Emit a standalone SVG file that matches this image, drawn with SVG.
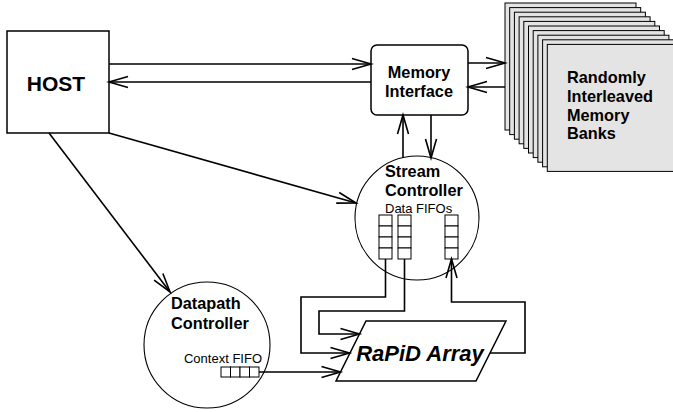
<svg xmlns="http://www.w3.org/2000/svg" width="673" height="412" viewBox="0 0 673 412">
  <style>
    .bold { font-family: "Liberation Sans", Arial, sans-serif; font-weight: bold; fill: #000; }
    .reg { font-family: "Liberation Sans", Arial, sans-serif; fill: #000; }
    .box { fill: #fff; stroke: #000; stroke-width: 1.5; }
    .ring { fill: #fff; stroke: #000; stroke-width: 1.1; }
    .card { fill: #e4e4e4; stroke: #000; stroke-width: 1; }
    .cell { fill: #fff; stroke: #000; stroke-width: 1; }
    .wire { fill: none; stroke: #000; stroke-width: 1.6; }
  </style>
  <defs>
    <marker id="open" viewBox="-20 -7 21 14" refX="0" refY="0" markerWidth="21" markerHeight="14" markerUnits="userSpaceOnUse" orient="auto" overflow="visible">
      <path d="M-19,-5.5 L0,0 L-19,5.5" fill="none" stroke="#000" stroke-width="1.6"/>
    </marker>
  </defs>

  <rect width="673" height="412" fill="#fff"/>

  <!-- Host -->
  <g id="host">
    <rect class="box" x="7" y="31" width="102" height="102"/>
    <text class="bold" x="56" y="91" font-size="21" text-anchor="middle">HOST</text>
  </g>

  <!-- Memory interface -->
  <g id="memory-interface">
    <rect class="box" x="371" y="45" width="97" height="70" rx="6"/>
    <text class="bold" x="419" y="78" font-size="16.3" text-anchor="middle">Memory</text>
    <text class="bold" x="419" y="97" font-size="16.3" text-anchor="middle">Interface</text>
  </g>

  <!-- Stack of memory banks -->
  <g id="memory-banks">
    <rect class="card" x="505" y="3" width="131" height="127"/>
    <rect class="card" x="509.7" y="7.6" width="131" height="127"/>
    <rect class="card" x="514.4" y="12.2" width="131" height="127"/>
    <rect class="card" x="519.1" y="16.8" width="131" height="127"/>
    <rect class="card" x="523.8" y="21.4" width="131" height="127"/>
    <rect class="card" x="528.5" y="26" width="131" height="127"/>
    <rect class="card" x="533.2" y="30.6" width="131" height="127"/>
    <rect class="card" x="537.9" y="35.2" width="131" height="127"/>
    <rect class="card" x="542.6" y="39.8" width="131" height="127"/>
    <rect class="card" x="547.3" y="44.4" width="131" height="127"/>
    <text class="bold" x="567" y="83" font-size="16.3">Randomly</text>
    <text class="bold" x="567" y="102" font-size="16.3">Interleaved</text>
    <text class="bold" x="567" y="120.5" font-size="16.3">Memory</text>
    <text class="bold" x="567" y="139" font-size="16.3">Banks</text>
  </g>

  <!-- Stream controller with its data FIFOs -->
  <g id="stream-controller">
    <circle class="ring" cx="417" cy="218" r="62"/>
    <text class="bold" x="385" y="177" font-size="16.3">Stream</text>
    <text class="bold" x="385" y="196" font-size="16.3">Controller</text>
    <text class="reg" x="385" y="212.5" font-size="13">Data FIFOs</text>
    <g id="data-fifo-1">
      <rect class="cell" x="379" y="215" width="13" height="11"/>
      <rect class="cell" x="379" y="226" width="13" height="11"/>
      <rect class="cell" x="379" y="237" width="13" height="11"/>
      <rect class="cell" x="379" y="248" width="13" height="11"/>
    </g>
    <g id="data-fifo-2">
      <rect class="cell" x="398" y="215" width="13" height="11"/>
      <rect class="cell" x="398" y="226" width="13" height="11"/>
      <rect class="cell" x="398" y="237" width="13" height="11"/>
      <rect class="cell" x="398" y="248" width="13" height="11"/>
    </g>
    <g id="data-fifo-3">
      <rect class="cell" x="445" y="215" width="13" height="11"/>
      <rect class="cell" x="445" y="226" width="13" height="11"/>
      <rect class="cell" x="445" y="237" width="13" height="11"/>
      <rect class="cell" x="445" y="248" width="13" height="11"/>
    </g>
  </g>

  <!-- Datapath controller with its context FIFO -->
  <g id="datapath-controller">
    <circle class="ring" cx="207" cy="345" r="63"/>
    <text class="bold" x="171" y="309" font-size="16.3">Datapath</text>
    <text class="bold" x="171" y="329" font-size="16.3">Controller</text>
    <text class="reg" x="262" y="362.5" font-size="13" text-anchor="end">Context FIFO</text>
    <rect class="cell" x="221" y="367" width="9.5" height="10"/>
    <rect class="cell" x="230.5" y="367" width="9.5" height="10"/>
    <rect class="cell" x="240" y="367" width="9.5" height="10"/>
    <rect class="cell" x="249.5" y="367" width="9.5" height="10"/>
  </g>

  <!-- RaPiD array -->
  <g id="rapid-array">
    <polygon class="box" stroke-width="1.2" points="366,321 506,321 476,381 336,381"/>
    <text class="bold" x="420" y="361" font-size="22" font-style="italic" text-anchor="middle">RaPiD Array</text>
  </g>

  <!-- Connectors -->
  <g id="connectors">
    <line class="wire" x1="109" y1="64" x2="371" y2="64" marker-end="url(#open)"/>
    <line class="wire" x1="371" y1="82" x2="109" y2="82" marker-end="url(#open)"/>
    <line class="wire" x1="468" y1="63" x2="505" y2="63" marker-end="url(#open)"/>
    <line class="wire" x1="505" y1="87" x2="468" y2="87" marker-end="url(#open)"/>
    <line class="wire" x1="403" y1="158" x2="403" y2="115" marker-end="url(#open)"/>
    <line class="wire" x1="431" y1="115" x2="431" y2="158" marker-end="url(#open)"/>
    <line class="wire" x1="109" y1="133" x2="356" y2="203" marker-end="url(#open)"/>
    <line class="wire" x1="49" y1="133" x2="170" y2="292" marker-end="url(#open)"/>
    <polyline class="wire" points="385.5,259 385.5,297 301,297 301,353 349.5,353" marker-end="url(#open)"/>
    <polyline class="wire" points="404.5,259 404.5,311 319,311 319,334 359.5,334" marker-end="url(#open)"/>
    <polyline class="wire" points="490,353 525,353 525,302 451.5,302 451.5,259" marker-end="url(#open)"/>
    <line class="wire" x1="259" y1="372" x2="340.5" y2="372" marker-end="url(#open)"/>
  </g>
</svg>
